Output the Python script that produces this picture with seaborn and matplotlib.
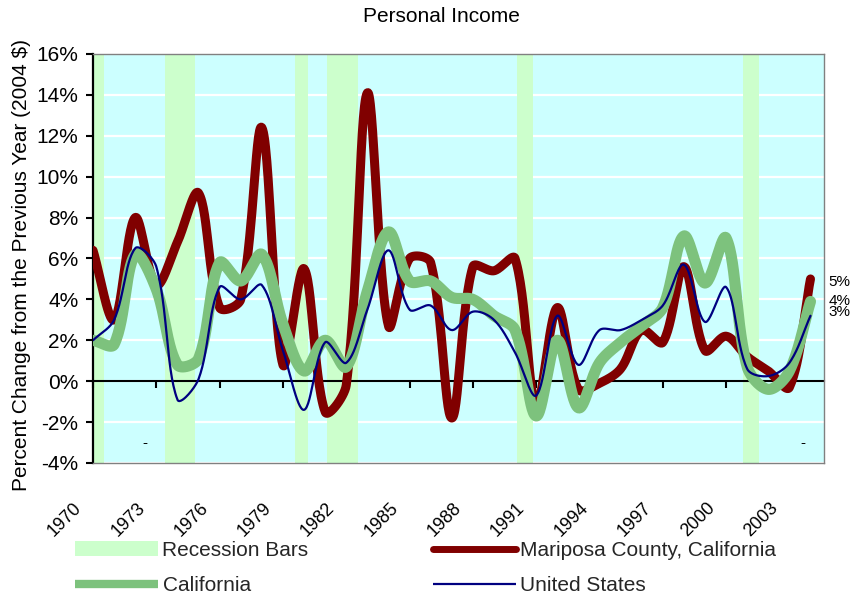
import numpy as np
import pandas as pd
import matplotlib
matplotlib.use("Agg")
import matplotlib.pyplot as plt
import matplotlib.transforms as mtransforms
from matplotlib.lines import Line2D
from matplotlib.patches import Patch
import seaborn as sns

# Annual change in real personal income (percent, 2004 dollars)
years = list(range(1970, 2005))
mariposa = [6.4, 3.0, 8.0, 4.7, 6.8, 9.2, 3.6, 4.0, 12.4, 0.8,
            5.5, -1.5, -0.2, 14.1, 2.7, 6.0, 5.8, -1.8, 5.6, 5.4,
            6.0, -1.2, 3.6, -0.4, -0.1, 0.6, 2.5, 1.9, 5.6, 1.5,
            2.2, 1.2, 0.5, -0.3, 5.0]
california = [2.0, 1.8, 6.2, 4.5, 0.8, 1.1, 5.8, 4.9, 6.2, 2.8,
              0.5, 2.0, 0.7, 4.4, 7.3, 4.9, 4.9, 4.1, 4.0, 3.2,
              2.5, -1.7, 2.0, -1.3, 0.9, 1.9, 2.7, 3.6, 7.1, 4.8,
              7.0, 0.7, -0.4, 0.5, 3.9]
united_states = [2.0, 3.0, 6.5, 5.6, -0.9, 0.1, 4.6, 4.0, 4.7, 1.5,
                 -1.4, 1.9, 0.9, 3.5, 6.4, 3.5, 3.7, 2.5, 3.4, 3.0,
                 1.4, -0.7, 3.2, 0.8, 2.5, 2.5, 3.0, 3.7, 5.7, 2.9,
                 4.6, 0.6, 0.25, 0.9, 3.2]

# Recession periods (fractional years)
rec_start = [1969.8, 1973.43, 1979.57, 1981.09, 1990.11, 2000.82]
rec_end = [1970.52, 1974.85, 1980.20, 1982.54, 1990.87, 2001.56]

tick_years = years[::3]
series_names = ["Mariposa County, California", "California", "United States"]

RED = "#800000"
GREEN = "#7DC27D"
NAVY = "#000080"
SKY = "#CCFFFF"
MINT = "#CCFFCC"


def smooth(x, y, n=30, kx=21.1, ky=20.45):
    """Bezier 'smoothed line' through the points; tangents follow the
    neighbouring points and are scaled by the on-screen segment lengths."""
    P = np.column_stack([np.asarray(x, float) * kx, np.asarray(y, float) * ky])
    m = len(P)
    ext = np.vstack([P[0], P, P[-1]])
    L = np.linalg.norm(np.diff(ext, axis=0), axis=1)  # L[i] = |ext[i+1]-ext[i]|
    t = np.linspace(0, 1, n, endpoint=False)[:, None]
    out = []
    for i in range(m - 1):
        p0, p1 = P[i], P[i + 1]
        d0 = ext[i + 2] - ext[i]
        d1 = ext[i + 3] - ext[i + 1]
        seg = L[i + 1]
        r0 = seg / (L[i] + seg) if (L[i] + seg) > 0 else 0.5
        r1 = seg / (seg + L[i + 2]) if (seg + L[i + 2]) > 0 else 0.5
        c0 = p0 + d0 * r0 / 3
        c1 = p1 - d1 * r1 / 3
        b = ((1 - t) ** 3) * p0 + 3 * ((1 - t) ** 2) * t * c0 \
            + 3 * (1 - t) * t ** 2 * c1 + t ** 3 * p1
        out.append(b)
    out.append(P[-1][None, :])
    pts = np.vstack(out)
    return pts[:, 0] / kx, pts[:, 1] / ky


frames = []
for name, vals in zip(series_names, [mariposa, california, united_states]):
    sx, sy = smooth(years, vals)
    frames.append(pd.DataFrame({"year": sx, "change": sy, "series": name}))
curves = pd.concat(frames, ignore_index=True)

sns.set_theme(style="white")
plt.rcParams["font.family"] = ["Liberation Sans", "DejaVu Sans"]

fig = plt.figure(figsize=(8.53, 5.96), dpi=100)
ax = fig.add_axes([93 / 853, 1 - 463 / 596, (824 - 93) / 853, (463 - 54) / 596])
ax.set_facecolor(SKY)
ax.set_xlim(1970, 2004.64)
ax.set_ylim(-4, 16)
ax.set_axisbelow(True)
ax.yaxis.grid(True, color="white", lw=1.6)
ax.xaxis.grid(False)

for s, e in zip(rec_start, rec_end):
    ax.axvspan(s, e, color=MINT, lw=0, zorder=1)

styles = {
    "Mariposa County, California": dict(color=RED, lw=6.5, zorder=3),
    "California": dict(color=GREEN, lw=8, zorder=3.5),
    "United States": dict(color=NAVY, lw=1.6, zorder=4),
}
for name in series_names:
    st = styles[name]
    sns.lineplot(data=curves[curves["series"] == name], x="year", y="change",
                 sort=False, estimator=None, color=st["color"], lw=st["lw"],
                 zorder=st["zorder"], ax=ax, legend=False)
ax.set_xlabel("")
ax.set_ylabel("")

# zero line with its tick marks
zero = ax.secondary_xaxis(0.2)
zero.set_xticks(tick_years)
zero.tick_params(axis="x", direction="out", length=5, width=1.5, color="black",
                 labelbottom=False, bottom=True)
zero.spines["bottom"].set_color("black")
zero.spines["bottom"].set_linewidth(1.5)
zero.patch.set_visible(False)
zero.set_zorder(2)

# axes frame
for side in ["top", "right", "bottom"]:
    ax.spines[side].set_color("#808080")
    ax.spines[side].set_linewidth(1.0)
ax.spines["left"].set_color("black")
ax.spines["left"].set_linewidth(1.6)

ax.set_yticks(np.arange(-4, 17, 2))
ax.yaxis.set_major_formatter(lambda v, p: f"{v:.0f}%")
ax.tick_params(axis="y", left=True, direction="out", length=5, width=1.5,
               color="black", labelsize=15, pad=5.5, labelcolor="black")

ax.set_xticks(tick_years)
ax.set_xticklabels([str(y) for y in tick_years], rotation=45, ha="right",
                   va="top", fontsize=13)
ax.tick_params(axis="x", bottom=True, length=0, pad=26, labelcolor="black")
shift = mtransforms.ScaledTranslation(-8 / 100, 0, fig.dpi_scale_trans)
for lab in ax.get_xticklabels():
    lab.set_transform(lab.get_transform() + shift)

# end-of-series value labels
for vals, dy in zip([mariposa, california, united_states], [-2.5, 0, 2.5]):
    ax.annotate(f"{vals[-1]:.0f}%", xy=(years[-1], vals[-1]), xytext=(13, dy),
                textcoords="offset points", ha="left", va="center",
                fontsize=11, color="black", annotation_clip=False)

for xd in [1972.46, 2003.65]:
    ax.text(xd, -3.03, "-", ha="center", va="center", fontsize=11, color="black")

fig.text(441 / 853, 1 - 17 / 596, "Personal Income", ha="center", va="center",
         fontsize=15, color="black")
fig.text(22 / 853, 1 - 265 / 596, "Percent Change from the Previous Year (2004 $)",
         rotation=90, ha="center", va="center", fontsize=15, color="black")

handles = [Patch(facecolor=MINT, edgecolor="none"),
           Line2D([], [], color=GREEN, lw=6, solid_capstyle="butt"),
           Line2D([], [], color=RED, lw=5, solid_capstyle="round"),
           Line2D([], [], color=NAVY, lw=1.6, solid_capstyle="butt")]
labels = ["Recession Bars", "California", "Mariposa County, California", "United States"]
fig.legend(handles, labels, loc="upper left", bbox_to_anchor=(75 / 853, 1 - 541 / 596),
           ncol=2, frameon=False, fontsize=15, handlelength=4.0, handletextpad=0.2,
           columnspacing=5.95, labelspacing=0.78, borderpad=0, borderaxespad=0)

fig.savefig("out.png", dpi=100)
